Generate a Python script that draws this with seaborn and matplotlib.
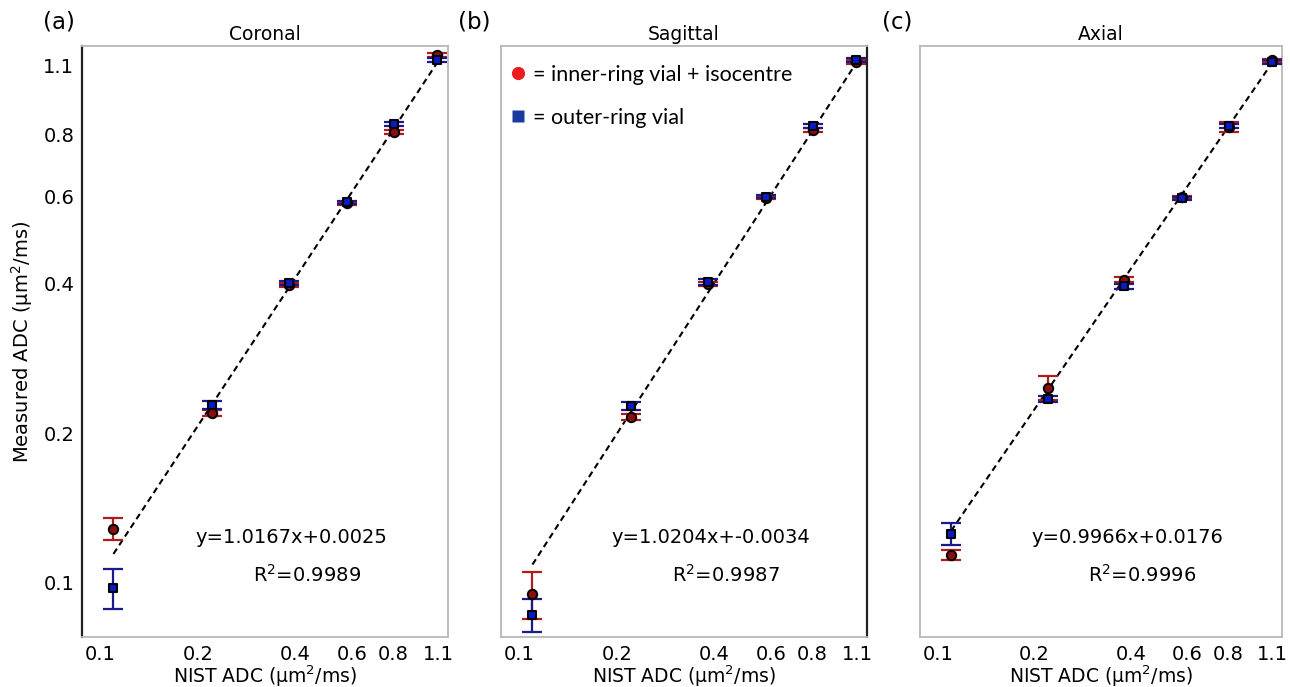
import numpy as np
import pandas as pd
import matplotlib
matplotlib.use("Agg")
import matplotlib.pyplot as plt
from matplotlib.ticker import FixedLocator, LogLocator, NullFormatter, FixedFormatter
from matplotlib.lines import Line2D
import seaborn as sns

# ---------------- data ----------------
nist_adc = [0.110, 0.221, 0.381, 0.575, 0.805, 1.095]
tick_values = [0.1, 0.2, 0.4, 0.6, 0.8, 1.1]
tick_labels = ["0.1", "0.2", "0.4", "0.6", "0.8", "1.1"]

panel_titles = ["Coronal", "Sagittal", "Axial"]
panel_letters = ["(a)", "(b)", "(c)"]

coronal_inner = [0.1285, 0.2196, 0.397, 0.580, 0.807, 1.155]
coronal_inner_err = [0.0065, 0.003, 0.004, 0.004, 0.007, 0.012]
coronal_outer = [0.0977, 0.2278, 0.401, 0.583, 0.838, 1.126]
coronal_outer_err = [0.009, 0.004, 0.004, 0.004, 0.008, 0.010]

sagittal_inner = [0.0950, 0.2155, 0.399, 0.596, 0.815, 1.118]
sagittal_inner_err = [0.0103, 0.003, 0.004, 0.004, 0.007, 0.010]
sagittal_outer = [0.0862, 0.2268, 0.403, 0.598, 0.830, 1.128]
sagittal_outer_err = [0.0065, 0.004, 0.005, 0.004, 0.007, 0.010]

axial_inner = [0.1139, 0.2470, 0.4077, 0.597, 0.826, 1.125]
axial_inner_err = [0.0026, 0.0135, 0.005, 0.004, 0.020, 0.010]
axial_outer = [0.1255, 0.2344, 0.3950, 0.594, 0.830, 1.118]
axial_outer_err = [0.0064, 0.0035, 0.005, 0.004, 0.008, 0.010]

fit_slopes = [1.0167, 1.0204, 0.9966]
fit_intercepts = [0.0025, -0.0034, 0.0176]
fit_r2 = [0.9989, 0.9987, 0.9996]

inner_series = [coronal_inner, sagittal_inner, axial_inner]
inner_errs = [coronal_inner_err, sagittal_inner_err, axial_inner_err]
outer_series = [coronal_outer, sagittal_outer, axial_outer]
outer_errs = [coronal_outer_err, sagittal_outer_err, axial_outer_err]

# ---------------- style ----------------
sns.set_style("white")
plt.rcParams['font.family'] = ['DejaVu Sans']
plt.rcParams['text.color'] = 'black'
plt.rcParams['axes.labelcolor'] = 'black'
plt.rcParams['axes.titlecolor'] = 'black'

W, H = 1290, 687
fig = plt.figure(figsize=(W / 100, H / 100), dpi=100)

axes_px = [(82, 448), (501, 867), (920, 1282)]
top_px, bottom_px = 46, 637
letter_x_px = [43, 458, 882]

red_err_c = "#b01c1c"
blue_err_c = "#1a1a8c"
red_face = "#8b0d0d"
blue_face = "#0a1ac8"

for i in range(3):
    l, r = axes_px[i]
    ax = fig.add_axes([l / W, 1 - bottom_px / H, (r - l) / W, (bottom_px - top_px) / H])
    ax.set_xscale('log')
    ax.set_yscale('log')

    df = pd.DataFrame({
        "nist": nist_adc,
        "inner": inner_series[i], "inner_err": inner_errs[i],
        "outer": outer_series[i], "outer_err": outer_errs[i],
    })

    # fit line
    a, b = fit_slopes[i], fit_intercepts[i]
    xs = [nist_adc[0], nist_adc[-1]]
    fit_df = pd.DataFrame({"x": xs, "y": [a * v + b for v in xs]})
    sns.lineplot(data=fit_df, x="x", y="y", ax=ax, color="black",
                 linestyle=(0, (3.0, 2.0)), linewidth=1.5, zorder=2, sort=False)

    ax.errorbar(df["nist"], df["inner"], yerr=df["inner_err"], fmt='none',
                ecolor=red_err_c, elinewidth=1.6, capsize=7.5, capthick=1.6, zorder=3)
    ax.errorbar(df["nist"], df["outer"], yerr=df["outer_err"], fmt='none',
                ecolor=blue_err_c, elinewidth=1.6, capsize=7.5, capthick=1.6, zorder=4)

    sns.scatterplot(data=df, x="nist", y="inner", ax=ax, marker='o', s=46,
                    color=red_face, edgecolor="black", linewidth=1.4, zorder=5)
    sns.scatterplot(data=df, x="nist", y="outer", ax=ax, marker='s', s=36,
                    color=blue_face, edgecolor="black", linewidth=1.5, zorder=6)

    ax.set_xlim(0.088, 1.18)
    ax.set_ylim(0.0778, 1.203)

    for axis in (ax.xaxis, ax.yaxis):
        axis.set_major_locator(FixedLocator(tick_values))
        axis.set_minor_locator(LogLocator(base=10, subs=np.arange(1, 10) * 1.0, numticks=20))
        axis.set_minor_formatter(NullFormatter())
    ax.xaxis.set_major_formatter(FixedFormatter(tick_labels))
    if i == 0:
        ax.yaxis.set_major_formatter(FixedFormatter(tick_labels))
        ax.set_ylabel("Measured ADC (\u00b5m$^{2}$/ms)", fontsize=14, labelpad=6)
    else:
        ax.yaxis.set_major_formatter(NullFormatter())
        ax.set_ylabel("")
    ax.set_xlabel("NIST ADC (\u00b5m$^{2}$/ms)", fontsize=13.5, labelpad=0)

    ax.tick_params(axis='both', which='both', direction='out', colors='#222222',
                   labelsize=14, labelcolor='black')
    ax.tick_params(axis='both', which='major', length=3.5, width=0.9, pad=2)
    ax.tick_params(axis='both', which='minor', length=2.5, width=0.7)

    for side, sp in ax.spines.items():
        sp.set_color('#b8b8b8')
        sp.set_linewidth(1.3)
        sp.set_visible(True)
    if i == 0:
        ax.spines['left'].set_color('#222222')
        ax.spines['left'].set_linewidth(1.6)
    if i == 1:
        ax.spines['right'].set_color('#222222')
        ax.spines['right'].set_linewidth(1.6)

    ax.set_title(panel_titles[i], fontsize=13.5, pad=4)

    ax.text(0.572, 0.169, f"y={a:.4f}x+{b:.4f}", transform=ax.transAxes,
            ha='center', va='center', fontsize=14)
    ax.text(0.615, 0.105, f"R$^{{2}}$={fit_r2[i]:.4f}", transform=ax.transAxes,
            ha='center', va='center', fontsize=14)

    fig.text(letter_x_px[i] / W, 1 - 22 / H, panel_letters[i], fontsize=16.5,
             ha='left', va='center')

    if i == 1:
        handles = [
            Line2D([], [], linestyle='none', marker='o', markersize=9.5,
                   markerfacecolor='#ee1c1c', markeredgecolor='none'),
            Line2D([], [], linestyle='none', marker='s', markersize=8,
                   markerfacecolor='#1a3aa0', markeredgecolor='none'),
        ]
        ax.legend(handles, ["= inner-ring vial + isocentre", "= outer-ring vial"],
                  loc='upper left', bbox_to_anchor=(0.026, 0.968),
                  frameon=False, handlelength=0.7,
                  handletextpad=0.35, labelspacing=1.05, borderaxespad=0.0,
                  borderpad=0.0,
                  prop={'family': 'Lato', 'size': 15.5})

fig.savefig("out.png", dpi=100)
